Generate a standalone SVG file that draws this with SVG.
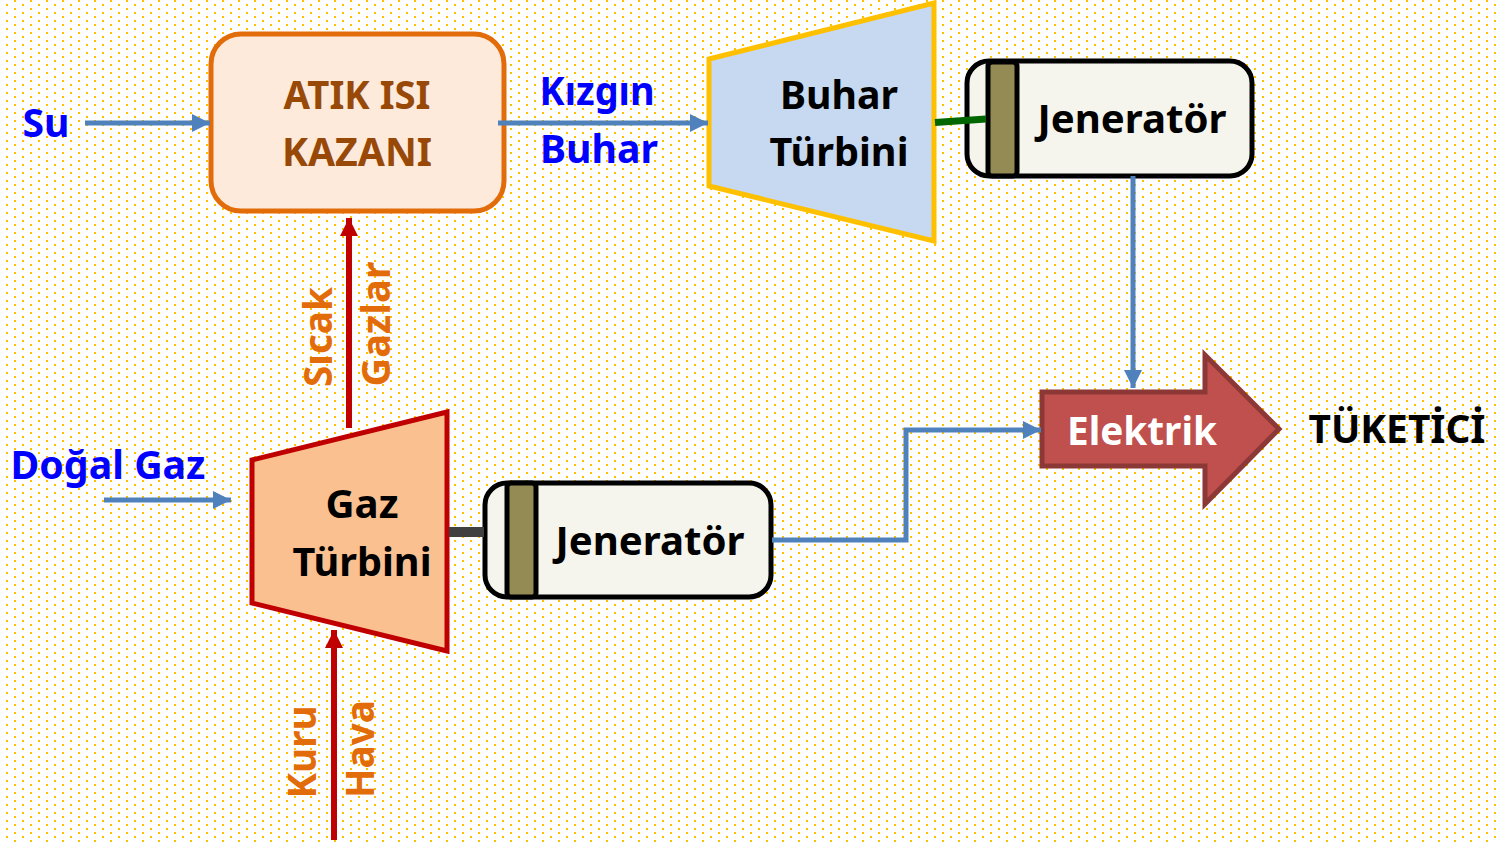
<svg xmlns="http://www.w3.org/2000/svg" width="1496" height="843" viewBox="0 0 1496 843">
<style>
text{font-family:"Noto Sans","Open Sans","Liberation Sans",sans-serif;font-weight:700;font-size:40px;text-anchor:middle}
.k{fill:#000}.b{fill:#0000ff}.o{fill:#e36c0a}.br{fill:#984807}
.blue{fill:none;stroke:#4f81bd;stroke-width:5}
.red{fill:none;stroke:#c00000;stroke-width:6}
.gen{fill:#f5f5ee;stroke:#000;stroke-width:5}
.gb{fill:#948a54;stroke:#000;stroke-width:5}
</style>
<defs>
<pattern id="dots" width="16" height="8" patternUnits="userSpaceOnUse">
<rect x="14" y="0" width="2" height="2" fill="#ffc000"/><rect x="6" y="4" width="2" height="2" fill="#ffc000"/>
</pattern>
<marker id="ab" markerUnits="userSpaceOnUse" markerWidth="18" markerHeight="18" refX="18" refY="9" orient="auto"><path d="M0 0L18 9L0 18Z" fill="#4f81bd"/></marker>
<marker id="ar" markerUnits="userSpaceOnUse" markerWidth="18" markerHeight="18" refX="18" refY="9" orient="auto"><path d="M0 0L18 9L0 18Z" fill="#c00000"/></marker>
</defs>
<rect width="1496" height="843" fill="#fff"/>
<rect width="1496" height="843" fill="url(#dots)"/>
<g id="kazan">
<rect x="211" y="34" width="293" height="177" rx="30" fill="#fdeada" stroke="#e36c0a" stroke-width="5"/>
<text class="br" x="357" y="109" textLength="147" lengthAdjust="spacingAndGlyphs">ATIK ISI</text>
<text class="br" x="357" y="166" textLength="150" lengthAdjust="spacingAndGlyphs">KAZANI</text>
</g>
<g id="buhar-turbini">
<path d="M709 59L934 3V241L709 186Z" fill="#c6d9f1" stroke="#ffc000" stroke-width="5"/>
<text class="k" x="839" y="109" textLength="118" lengthAdjust="spacingAndGlyphs">Buhar</text>
<text class="k" x="839" y="166" textLength="139" lengthAdjust="spacingAndGlyphs">Türbini</text>
</g>
<g id="jenerator-1">
<rect x="967" y="61" width="285" height="115" rx="22" class="gen"/>
<rect x="988" y="62" width="29" height="114" rx="4" class="gb"/>
<text class="k" x="1132" y="133" textLength="189" lengthAdjust="spacingAndGlyphs">Jeneratör</text>
</g>
<g id="elektrik">
<path d="M1042 392H1205V355L1279 429L1205 504V466H1042Z" fill="#c0504d" stroke="#8c3836" stroke-width="5"/>
<text x="1142" y="445" fill="#fff" textLength="150" lengthAdjust="spacingAndGlyphs">Elektrik</text>
</g>
<g id="gaz-turbini">
<path d="M252 460L447 412V651L252 603Z" fill="#fac090" stroke="#c00000" stroke-width="5"/>
<text class="k" x="362" y="518" textLength="73" lengthAdjust="spacingAndGlyphs">Gaz</text>
<text class="k" x="362" y="576" textLength="139" lengthAdjust="spacingAndGlyphs">Türbini</text>
</g>
<g id="jenerator-2">
<rect x="485" y="483" width="286" height="114" rx="22" class="gen"/>
<rect x="507" y="483" width="29" height="114" rx="4" class="gb"/>
<text class="k" x="650" y="555" textLength="189" lengthAdjust="spacingAndGlyphs">Jeneratör</text>
</g>
<g id="connectors">
<path class="blue" d="M85 123H210" marker-end="url(#ab)"/>
<path class="blue" d="M498 123H708" marker-end="url(#ab)"/>
<path class="blue" d="M104 500H231" marker-end="url(#ab)"/>
<path class="blue" d="M1133 176V388" marker-end="url(#ab)"/>
<path class="blue" d="M772 540H906V430H1041" marker-end="url(#ab)"/>
<path class="red" d="M349 428V218" marker-end="url(#ar)"/>
<path class="red" d="M334 840V630" marker-end="url(#ar)"/>
<path d="M935 122.500L986 119" fill="none" stroke="#006600" stroke-width="7"/>
<path d="M449 532H484" fill="none" stroke="#404040" stroke-width="10"/>
</g>
<g id="labels">
<text class="b" x="46" y="137" textLength="47" lengthAdjust="spacingAndGlyphs">Su</text>
<text class="b" x="597" y="105" textLength="115" lengthAdjust="spacingAndGlyphs">Kızgın</text>
<text class="b" x="599" y="163" textLength="118" lengthAdjust="spacingAndGlyphs">Buhar</text>
<text class="b" x="108" y="479" textLength="195" lengthAdjust="spacingAndGlyphs">Doğal Gaz</text>
<text class="k" x="1397" y="443" textLength="177" lengthAdjust="spacingAndGlyphs">TÜKETİCİ</text>
<text class="o" transform="translate(332 337) rotate(-90)" textLength="100" lengthAdjust="spacingAndGlyphs">Sıcak</text>
<text class="o" transform="translate(390 324) rotate(-90)" textLength="125" lengthAdjust="spacingAndGlyphs">Gazlar</text>
<text class="o" transform="translate(316 752) rotate(-90)" textLength="93" lengthAdjust="spacingAndGlyphs">Kuru</text>
<text class="o" transform="translate(374 749) rotate(-90)" textLength="98" lengthAdjust="spacingAndGlyphs">Hava</text>
</g>
</svg>
